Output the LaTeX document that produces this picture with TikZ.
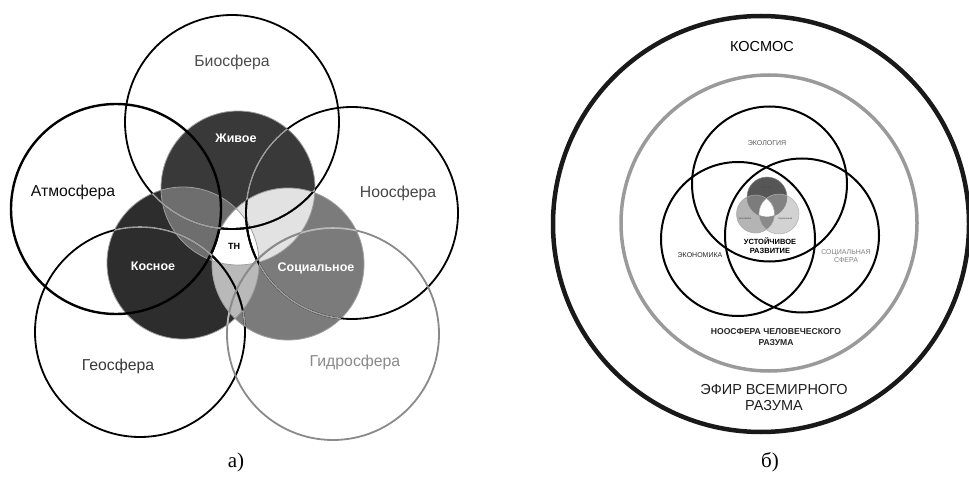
\documentclass[tikz,border=0pt]{standalone}
\usepackage{fontspec}
\setmainfont{Liberation Sans}
\newfontfamily\capfont{Liberation Serif}
\definecolor{zhc}{HTML}{393939}
\definecolor{koc}{HTML}{2D2D2D}
\definecolor{soc}{HTML}{7B7B7B}
\definecolor{zkc}{HTML}{6E6E6E}
\definecolor{zsc}{HTML}{E2E2E2}
\definecolor{ksc}{HTML}{B9B9B9}
\definecolor{lightln}{HTML}{9E9E9E}
\definecolor{hydc}{HTML}{8A8A8A}
\definecolor{ringgray}{HTML}{9A9A9A}
\definecolor{tT}{HTML}{565656}
\definecolor{tL}{HTML}{B4B4B4}
\definecolor{tR}{HTML}{D2D2D2}
\definecolor{tTL}{HTML}{7C7C7C}
\definecolor{tTR}{HTML}{828282}
\definecolor{tLR}{HTML}{8A8A8A}
\newcommand\pZh{(238,188) circle[radius=77pt]}
\newcommand\pKo{(183,263) circle[radius=76pt]}
\newcommand\pSo{(288,264) circle[radius=76pt]}
\newcommand\pBio{(232,122) circle[radius=107pt]}
\newcommand\pAtm{(116,209) circle[radius=105pt]}
\newcommand\pNoo{(352,213) circle[radius=106pt]}
\newcommand\pGeo{(140,332) circle[radius=105pt]}
\newcommand\pHyd{(333,334) circle[radius=106pt]}
\newcommand\pTT{(767,197) circle[radius=20pt]}
\newcommand\pTL{(755.5,214) circle[radius=19pt]}
\newcommand\pTR{(779,214) circle[radius=20pt]}
\begin{document}
\begin{tikzpicture}[x=1pt,y=-1pt,
  outerln/.style={line width=1.8pt,black},
  innerln/.style={line width=0.8pt,lightln},
  lbl/.style={font=\fontsize{15.8}{16}\selectfont,inner sep=0pt},
  inlbl/.style={font=\bfseries\fontsize{12.5}{13}\selectfont,white,inner sep=0pt},
  caplbl/.style={font=\capfont\fontsize{21}{22}\selectfont,inner sep=0pt},
  rlbl/.style={font=\fontsize{14.5}{16}\selectfont,inner sep=0pt,align=center},
  smlbl/.style={font=\fontsize{7}{8}\selectfont,inner sep=0pt,align=center},
  tinylbl/.style={font=\fontsize{2.6}{3}\selectfont,inner sep=0pt}]
\useasboundingbox[fill=white] (0,0) rectangle (969,481);
% ---------- left diagram: inner filled circles
\fill[koc] \pKo;
\fill[zhc] \pZh;
\fill[soc] \pSo;
\begin{scope}\clip \pZh; \fill[zkc] \pKo; \fill[zsc] \pSo; \end{scope}
\begin{scope}\clip \pKo; \fill[ksc] \pSo; \end{scope}
\begin{scope}\clip \pZh; \clip \pKo; \fill[white] \pSo; \end{scope}
\draw[innerln] \pZh; \draw[innerln] \pKo; \draw[innerln] \pSo;
% outer circles
\draw[outerln] \pBio;
\draw[outerln,line width=2.4pt] \pAtm;
\draw[outerln] \pNoo;
\draw[outerln] \pGeo;
\draw[outerln,hydc] \pHyd;
% lighter lines over dark fills
\foreach \cl in {\pZh,\pKo,\pSo}{
  \begin{scope}\clip \cl;
    \draw[line width=1.6pt,lightln] \pBio; \draw[line width=1.6pt,lightln] \pNoo;
    \draw[line width=1.6pt,lightln] \pGeo; \draw[line width=1.6pt,lightln!70] \pHyd;
  \end{scope}}
% dark lines over light overlaps
\begin{scope}\clip \pZh; \clip \pSo;
  \draw[outerln] \pBio; \draw[outerln,line width=2.4pt] \pAtm; \draw[outerln] \pNoo;
  \draw[outerln] \pGeo; \draw[outerln,hydc] \pHyd;
\end{scope}
\begin{scope}\clip \pKo; \clip \pSo;
  \draw[outerln] \pBio; \draw[outerln,line width=2.4pt] \pAtm; \draw[outerln] \pNoo;
  \draw[outerln] \pGeo; \draw[outerln,hydc] \pHyd;
\end{scope}
% labels left
\node[lbl,text=black!70] (bio) at (232,62) {Биосфера};
\node[lbl,text=black!95] (atm) at (73,192) {Атмосфера};
\node[lbl,text=black!72] (noo) at (398,193) {Ноосфера};
\node[lbl,text=black!78] (geo) at (118,366) {Геосфера};
\node[lbl,text=hydc] (hyd) at (355,362) {Гидросфера};
\node[inlbl] (zh) at (236,138) {Живое};
\node[inlbl] (ko) at (153,266) {Косное};
\node[inlbl] (so) at (316,268) {Социальное};
\node[font=\bfseries\fontsize{9}{10}\selectfont,inner sep=0pt] (tn) at (234,246) {ТН};
\node[caplbl] (capa) at (236,462) {а)};
% ---------- right diagram
\draw[line width=4.5pt,black!90] (761,224) circle[radius=208pt];
\draw[line width=3.5pt,ringgray] (769,223) circle[radius=148pt];
% tiny venn
\fill[tL] \pTL; \fill[tR] \pTR;
\begin{scope}\clip \pTL; \fill[tLR] \pTR; \end{scope}
\fill[tT] \pTT;
\begin{scope}\clip \pTT; \fill[tTL] \pTL; \fill[tTR] \pTR; \end{scope}
\begin{scope}\clip \pTT; \clip \pTL; \fill[white] \pTR; \end{scope}
\draw[line width=0.5pt,black!45] \pTT; \draw[line width=0.5pt,black!35] \pTL; \draw[line width=0.5pt,black!30] \pTR;
\node[tinylbl,text=black!70] (te) at (767,188) {экология};
\node[tinylbl,text=black!70] (tk) at (745,219) {экономика};
\node[tinylbl,text=black!70] (ts) at (785,219) {социальная};
% big venn
\draw[line width=2pt] (769.5,184) circle[radius=77.5pt];
\draw[line width=2pt] (738,239) circle[radius=77pt];
\draw[line width=2pt] (802,235.5) circle[radius=77pt];
% labels right
\node[rlbl] (kos) at (762,47) {КОСМОС};
\node[smlbl,text=black!65] (eco) at (767,143) {ЭКОЛОГИЯ};
\node[smlbl,text=black!85] (ekn) at (700,255) {ЭКОНОМИКА};
\node[smlbl,text=black!50] (soc) at (846,256) {СОЦИАЛЬНАЯ\\СФЕРА};
\node[smlbl,font=\bfseries\fontsize{7.5}{8.8}\selectfont] (ur) at (770,246) {УСТОЙЧИВОЕ\\РАЗВИТИЕ};
\node[smlbl,font=\bfseries\fontsize{8.6}{11}\selectfont,text=black!85] (noh) at (776,337) {НООСФЕРА ЧЕЛОВЕЧЕСКОГО\\РАЗУМА};
\node[rlbl,text=black!88] (efir) at (774,398) {ЭФИР ВСЕМИРНОГО\\РАЗУМА};
\node[caplbl] (capb) at (770,462) {б)};
\end{tikzpicture}
\end{document}
